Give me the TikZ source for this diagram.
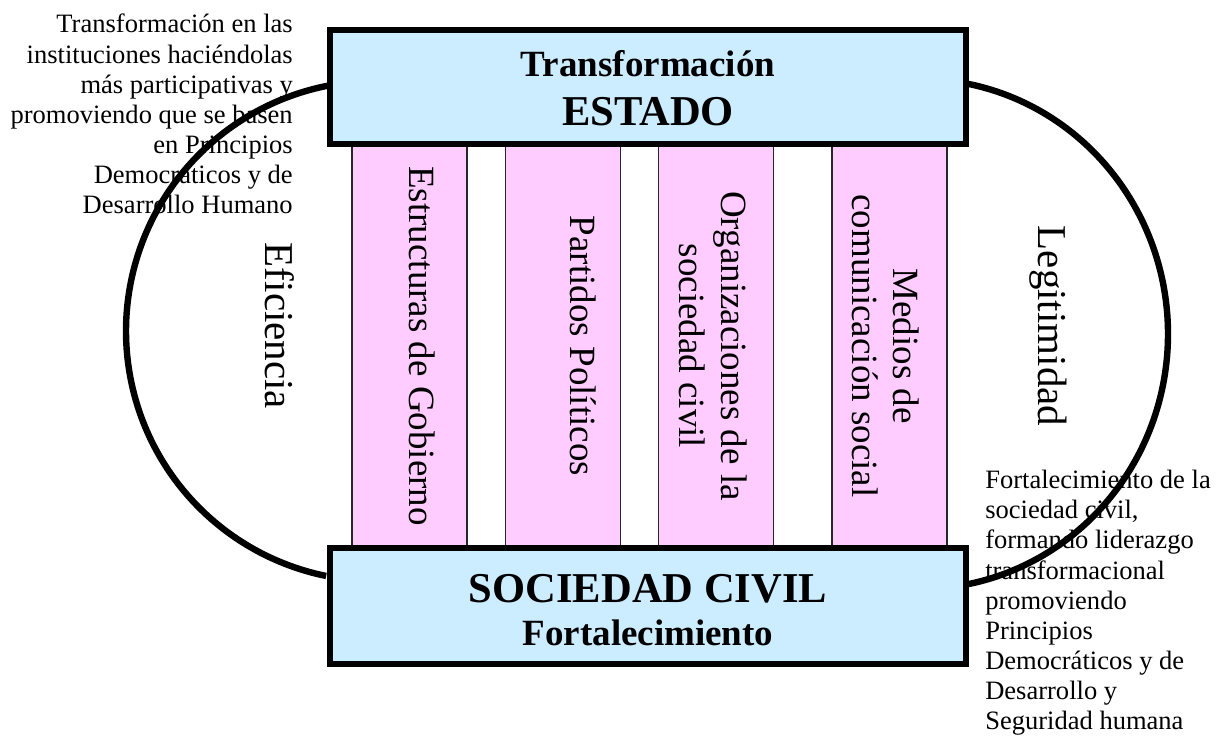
\documentclass[tikz,border=0pt]{standalone}
\usepackage{fontspec}
\setmainfont{Liberation Serif}
\definecolor{boxblue}{HTML}{CCECFF}
\definecolor{pillarpink}{HTML}{FFCCFF}
\begin{document}
\begin{tikzpicture}[x=0.75pt,y=-0.75pt,
  mainbox/.style={draw=black, line width=4.5pt, fill=boxblue, inner sep=0pt,
                  minimum width=477pt},
  pillar/.style={draw=black!85, line width=1.1pt, fill=pillarpink, inner sep=0pt,
                 minimum width=86.25pt, minimum height=302.25pt},
  ring/.style={line width=4.8pt, black},
  boxtitle/.style={anchor=base, inner sep=0pt, font=\bfseries\fontsize{31.9}{34}\selectfont},
  boxsub/.style={anchor=base, inner sep=0pt, font=\bfseries\fontsize{27.75}{30}\selectfont},
  pillartext/.style={rotate=-90, align=center, inner sep=0pt,
                     font=\fontsize{27.75}{31.1}\selectfont},
  sidetext/.style={rotate=-90, inner sep=0pt, font=\fontsize{30.75}{33}\selectfont},
  note/.style={inner sep=0pt, font=\fontsize{19.9}{22.6}\selectfont}]
\useasboundingbox (0,0) rectangle (1220,738);

% annotations
\node[note, anchor=north east, align=right] (noteL) at (293,14)
  {Transformación en las\\instituciones haciéndolas\\más participativas y\\promoviendo que se basen\\en Principios\\Democráticos y de\\Desarrollo Humano};
\node[note, anchor=north west, align=left] (noteR) at (985,470)
  {Fortalecimiento de la\\sociedad civil,\\formando liderazgo\\transformacional\\promoviendo\\Principios\\Democráticos y de\\Desarrollo y\\Seguridad humana};

% arcs
\draw[ring] plot[domain=259.4:101.5, samples=90, smooth] ({376+250*cos(\x)},{331+250*sin(\x)});
\draw[ring] plot[domain=-78.8:79.8, samples=90, smooth] ({920+248*cos(\x)},{334+255*sin(\x)});

% pillars
\node[pillar] (p1) at (409.5,346.5) {};
\node[pillar] (p2) at (563,346.5) {};
\node[pillar] (p3) at (716,346.5) {};
\node[pillar] (p4) at (889.5,346.5) {};

% boxes
\node[mainbox, minimum height=85.5pt] (estado) at (648,87) {};
\node[mainbox, minimum height=87pt] (sociedad) at (648,606) {};

% box texts
\node[boxsub] (estadoA) at (648,77) {Transformación};
\node[boxtitle] (estadoB) at (648,126) {ESTADO};
\node[boxtitle] (socA) at (648,602) {SOCIEDAD CIVIL};
\node[boxsub] (socB) at (648,645) {Fortalecimiento};

% pillar texts
\node[pillartext] (t1) at (422,346) {Estructuras de Gobierno};
\node[pillartext] (t2) at (583.5,346) {Partidos Políticos};
\node[pillartext] (t3) at (713,346) {Organizaciones de la\\sociedad civil};
\node[pillartext] (t4) at (885.5,346) {Medios de\\comunicación social};

% side labels
\node[sidetext] (efi) at (280,326) {Eficiencia};
\node[sidetext] (leg) at (1048,326) {Legitimidad};
\end{tikzpicture}
\end{document}
